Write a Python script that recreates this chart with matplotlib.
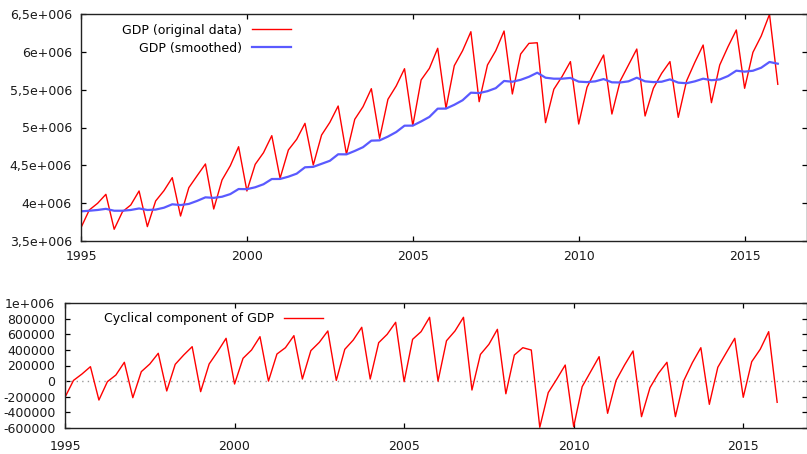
import numpy as np
import matplotlib
matplotlib.use("Agg")
import matplotlib.pyplot as plt

# ---------------- data (quarterly, 1995Q1 .. 2016Q1) ----------------
start_year = 1995
gdp_original = [
    3.676e6, 3.910e6, 3.998e6, 4.117e6,
    3.655e6, 3.887e6, 3.976e6, 4.161e6,
    3.690e6, 4.029e6, 4.165e6, 4.337e6,
    3.830e6, 4.205e6, 4.363e6, 4.518e6,
    3.923e6, 4.306e6, 4.495e6, 4.746e6,
    4.161e6, 4.513e6, 4.667e6, 4.892e6,
    4.329e6, 4.703e6, 4.844e6, 5.055e6,
    4.504e6, 4.900e6, 5.068e6, 5.284e6,
    4.646e6, 5.108e6, 5.275e6, 5.513e6,
    4.857e6, 5.372e6, 5.549e6, 5.777e6,
    5.024e6, 5.628e6, 5.782e6, 6.047e6,
    5.254e6, 5.817e6, 6.015e6, 6.266e6,
    5.341e6, 5.826e6, 6.015e6, 6.275e6,
    5.443e6, 5.971e6, 6.112e6, 6.120e6,
    5.064e6, 5.505e6, 5.675e6, 5.871e6,
    5.046e6, 5.531e6, 5.751e6, 5.958e6,
    5.178e6, 5.615e6, 5.826e6, 6.037e6,
    5.152e6, 5.518e6, 5.716e6, 5.871e6,
    5.134e6, 5.615e6, 5.862e6, 6.090e6,
    5.328e6, 5.826e6, 6.068e6, 6.289e6,
    5.518e6, 5.993e6, 6.209e6, 6.496e6,
    5.571e6,
]
gdp_smoothed = [
    3.892e6, 3.900e6, 3.910e6, 3.925e6,
    3.900e6, 3.900e6, 3.910e6, 3.930e6,
    3.910e6, 3.915e6, 3.940e6, 3.985e6,
    3.975e6, 3.990e6, 4.030e6, 4.077e6,
    4.070e6, 4.085e6, 4.120e6, 4.187e6,
    4.185e6, 4.210e6, 4.250e6, 4.319e6,
    4.320e6, 4.350e6, 4.390e6, 4.474e6,
    4.480e6, 4.520e6, 4.560e6, 4.646e6,
    4.645e6, 4.690e6, 4.740e6, 4.826e6,
    4.830e6, 4.880e6, 4.940e6, 5.024e6,
    5.025e6, 5.080e6, 5.140e6, 5.249e6,
    5.250e6, 5.300e6, 5.360e6, 5.460e6,
    5.455e6, 5.480e6, 5.520e6, 5.615e6,
    5.605e6, 5.630e6, 5.670e6, 5.724e6,
    5.658e6, 5.645e6, 5.645e6, 5.655e6,
    5.606e6, 5.600e6, 5.610e6, 5.640e6,
    5.597e6, 5.595e6, 5.610e6, 5.658e6,
    5.610e6, 5.600e6, 5.605e6, 5.636e6,
    5.593e6, 5.585e6, 5.610e6, 5.645e6,
    5.625e6, 5.635e6, 5.680e6, 5.751e6,
    5.738e6, 5.750e6, 5.790e6, 5.866e6,
    5.843e6,
]
gdp_cycle = [
    -207e3, 9e3, 91e3, 185e3,
    -242e3, -7e3, 78e3, 241e3,
    -212e3, 121e3, 219e3, 356e3,
    -126e3, 215e3, 334e3, 441e3,
    -135e3, 219e3, 377e3, 548e3,
    -37e3, 292e3, 398e3, 569e3,
    0e3, 347e3, 428e3, 582e3,
    27e3, 390e3, 497e3, 642e3,
    9e3, 407e3, 526e3, 689e3,
    27e3, 492e3, 599e3, 753e3,
    -7e3, 535e3, 633e3, 817e3,
    0e3, 517e3, 642e3, 817e3,
    -114e3, 342e3, 471e3, 663e3,
    -162e3, 334e3, 428e3, 398e3,
    -591e3, -147e3, 25e3, 206e3,
    -583e3, -71e3, 121e3, 313e3,
    -412e3, 9e3, 206e3, 386e3,
    -455e3, -84e3, 100e3, 241e3,
    -455e3, 9e3, 236e3, 428e3,
    -297e3, 177e3, 364e3, 548e3,
    -207e3, 249e3, 407e3, 633e3,
    -271e3,
]

x_ticks = [1995, 2000, 2005, 2010, 2015]
x_tick_labels = ["1995", "2000", "2005", "2010", "2015"]
top_y_ticks = [3.5e6, 4.0e6, 4.5e6, 5.0e6, 5.5e6, 6.0e6, 6.5e6]
top_y_labels = ["3,5e+006", "4e+006", "4,5e+006", "5e+006", "5,5e+006", "6e+006", "6,5e+006"]
bot_y_ticks = [-600000, -400000, -200000, 0, 200000, 400000, 600000, 800000, 1000000]
bot_y_labels = ["-600000", "-400000", "-200000", "0", "200000", "400000", "600000", "800000", "1e+006"]

t = start_year + np.arange(len(gdp_original)) / 4.0

# ---------------- figure ----------------
plt.rcParams['font.family'] = ['DejaVu Sans']
W, H = 807, 454
fig = plt.figure(figsize=(W / 100, H / 100), dpi=100)

def style_axes(ax, yticks, ylabels, ypad, xpad):
    ax.set_xticks(x_ticks)
    ax.set_xticklabels(x_tick_labels)
    ax.set_yticks(yticks)
    ax.set_yticklabels(ylabels)
    ax.tick_params(direction='in', length=3.6, width=0.9, colors='black',
                   labelsize=9, top=True, right=True, labelcolor='#1a1a1a')
    ax.tick_params(axis='y', pad=ypad)
    ax.tick_params(axis='x', pad=xpad)
    for s in ax.spines.values():
        s.set_linewidth(1.0)
        s.set_color('#222222')

# top panel
ax1 = fig.add_axes([81 / W, 1 - 241 / H, (W - 81) / W, (241 - 14) / H])
ax1.plot(t, gdp_original, color='#ff0000', lw=1.0, label='GDP (original data)')
ax1.plot(t, gdp_smoothed, color='#5a5aff', lw=1.6, label='GDP (smoothed)')
ax1.set_xlim(1995, 2016.88)
ax1.set_ylim(3.5e6, 6.5e6)
style_axes(ax1, top_y_ticks, top_y_labels, 6.5, 6.5)
ax1.legend(loc='upper right', bbox_to_anchor=((291 - 81) / (W - 81), 0.958),
           markerfirst=False, frameon=False, fontsize=9, handlelength=3.1,
           handletextpad=0.8, labelspacing=0.42, borderpad=0, borderaxespad=0)

# bottom panel
ax2 = fig.add_axes([65 / W, 1 - 428 / H, (W - 65) / W, (428 - 303) / H])
ax2.axhline(0, color='#999999', lw=1.0, ls=(0, (1, 3)))
ax2.plot(t, gdp_cycle, color='#ff0000', lw=1.0, label='Cyclical component of GDP')
ax2.set_xlim(1995, 2016.88)
ax2.set_ylim(-600000, 1000000)
style_axes(ax2, bot_y_ticks, bot_y_labels, 7, 8.5)
ax2.legend(loc='upper right', bbox_to_anchor=((323 - 65) / (W - 65), 0.925),
           markerfirst=False, frameon=False, fontsize=9, handlelength=3.1,
           handletextpad=0.8, borderpad=0, borderaxespad=0)

fig.savefig('out.png', dpi=100)
